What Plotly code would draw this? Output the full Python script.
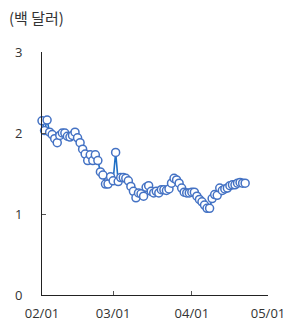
import plotly.graph_objects as go
import pandas as pd

start_date = "2022-02-01"
values = [2.15, 2.03, 2.16, 2.01, 1.98, 1.93, 1.88, 1.97, 2.00, 2.00,
          1.96, 1.95, 1.97, 2.01, 1.94, 1.88, 1.80, 1.74, 1.66, 1.73,
          1.66, 1.73, 1.66, 1.52, 1.48, 1.37, 1.37, 1.46, 1.41, 1.76,
          1.40, 1.45, 1.45, 1.44, 1.41, 1.34, 1.28, 1.20, 1.26, 1.25,
          1.22, 1.33, 1.35, 1.28, 1.26, 1.28, 1.26, 1.30, 1.30, 1.29,
          1.31, 1.38, 1.44, 1.42, 1.38, 1.32, 1.27, 1.26, 1.26, 1.27,
          1.27, 1.22, 1.18, 1.15, 1.11, 1.07, 1.07, 1.19, 1.24, 1.23,
          1.32, 1.29, 1.31, 1.32, 1.35, 1.36, 1.36, 1.38, 1.39, 1.38, 1.38]
dates = pd.date_range(start_date, periods=len(values), freq="D")

x_tickvals = ["2022-02-01", "2022-03-01", "2022-04-01", "2022-05-01"]
x_ticktext = ["02/01", "03/01", "04/01", "05/01"]
y_tickvals = [0, 1, 2, 3]
unit_label = "(백 달러)"

fig = go.Figure()
fig.add_trace(go.Scatter(
    x=dates, y=values, mode="lines+markers",
    line=dict(color="#1f6fc5", width=1.6),
    marker=dict(size=8, color="white", line=dict(color="#4472c4", width=1.5)),
    showlegend=False, hoverinfo="skip", cliponaxis=False,
))

fig.update_layout(
    width=295, height=325,
    margin=dict(l=42, r=27, t=52, b=30),
    paper_bgcolor="white", plot_bgcolor="white",
    font=dict(family="Open Sans, Noto Sans CJK KR", size=13, color="#333333"),
    annotations=[dict(text=unit_label, xref="paper", yref="paper",
                      x=-35/226, y=1 + 34/243, xanchor="left", yanchor="middle",
                      showarrow=False,
                      font=dict(family="Noto Sans CJK KR", size=15, color="#333333"))],
)
fig.update_xaxes(
    range=["2022-02-01", "2022-05-01"], tickvals=x_tickvals, ticktext=x_ticktext,
    showgrid=False, zeroline=False, showline=True, linecolor="#222222", linewidth=1,
    ticks="inside", ticklen=4, tickcolor="#555555", ticklabelstandoff=6,
    automargin=False,
)
fig.update_yaxes(
    range=[0, 3], tickvals=y_tickvals,
    showgrid=False, zeroline=False, showline=True, linecolor="#222222", linewidth=1,
    ticks="inside", ticklen=4, tickcolor="#555555", ticklabelstandoff=16,
    automargin=False,
)

fig.write_html("out.html", config={"displayModeBar": False},
               post_script="document.body.style.margin='0';document.body.style.overflow='hidden';")
